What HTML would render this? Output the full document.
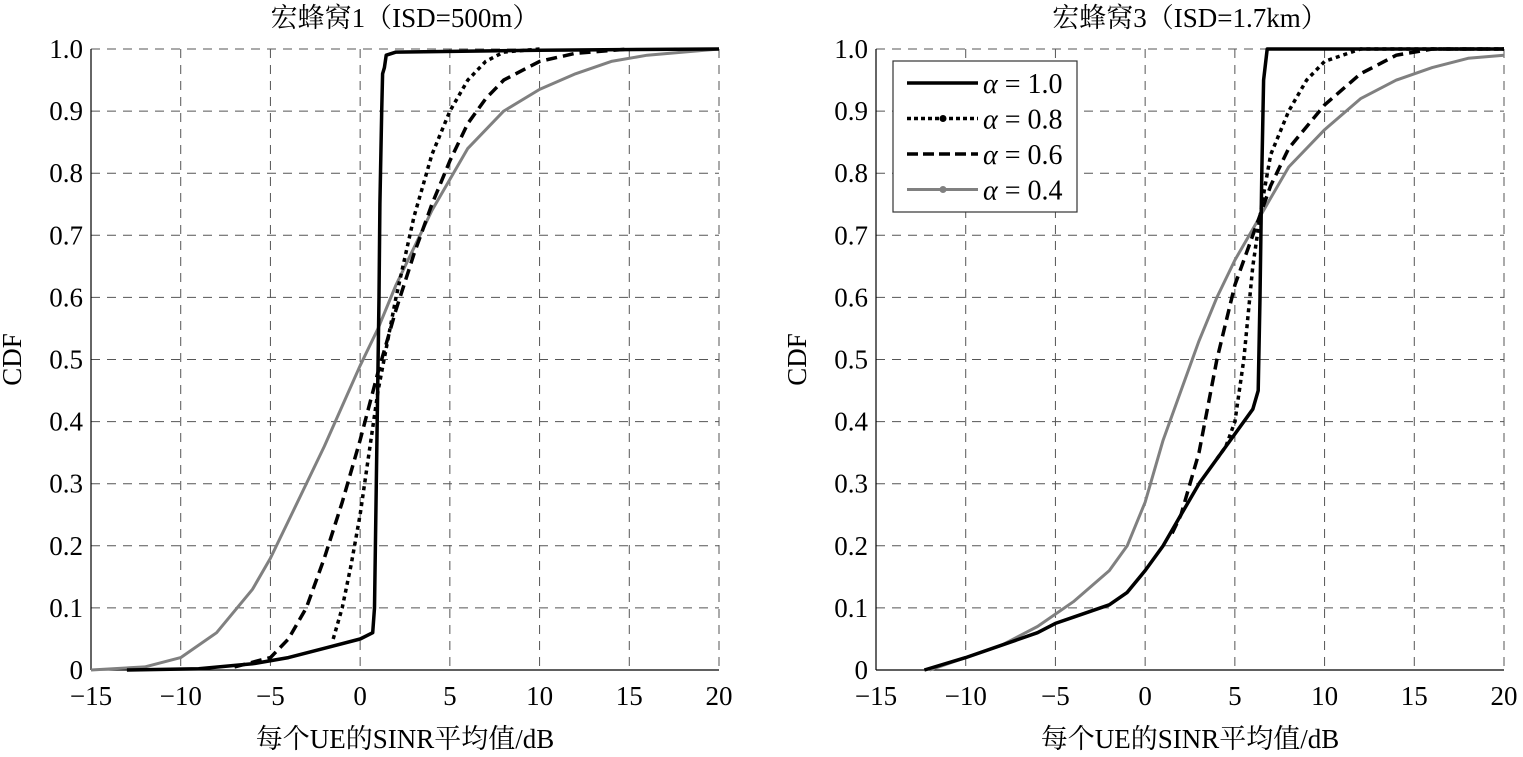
<!DOCTYPE html>
<html><head><meta charset="utf-8"><style>
body{margin:0;background:#fff;}
</style></head><body>
<svg id="s" width="1523" height="752" xmlns="http://www.w3.org/2000/svg" font-family="'Liberation Serif','Noto Serif CJK SC',serif"></svg>
<script>
const S=document.getElementById('s');let h='';
function add(x){h+=x;}
const F=`font-family="Liberation Serif, Noto Serif CJK SC, serif"`;
const plots=[
{x0:91,title:'宏蜂窝1（ISD=500m）',c:{
a1:[[-13,0],[-9,0.002],[-6,0.01],[-4,0.02],[-2,0.035],[0,0.05],[0.7,0.06],[0.8,0.1],[0.9,0.3],[1.0,0.5],[1.05,0.6],[1.1,0.75],[1.2,0.9],[1.25,0.96],[1.35,0.97],[1.45,0.99],[2,0.995],[10,0.998],[20,1]],
a8:[[-1.5,0.05],[-1,0.1],[-0.5,0.17],[0,0.25],[0.5,0.35],[1,0.45],[2,0.6],[3,0.73],[4,0.83],[5,0.9],[6,0.95],[7,0.98],[8,0.995],[10,1]],
a6:[[-7,0.005],[-5,0.02],[-4,0.05],[-3,0.1],[-2,0.18],[-1,0.27],[0,0.37],[1,0.48],[2,0.58],[3,0.67],[4,0.75],[5,0.82],[6,0.88],[7,0.92],[8,0.95],[10,0.98],[12,0.993],[15,1]],
a4:[[-15,0],[-12,0.005],[-10,0.02],[-8,0.06],[-6,0.13],[-5,0.18],[-4,0.24],[-2,0.36],[0,0.49],[1,0.55],[2,0.62],[3,0.68],[4,0.74],[5,0.79],[6,0.84],[8,0.9],[10,0.935],[12,0.96],[14,0.98],[16,0.99],[20,1]]}},
{x0:876,title:'宏蜂窝3（ISD=1.7km）',c:{
a1:[[-12.3,0],[-10,0.02],[-8,0.04],[-6,0.06],[-5,0.075],[-4,0.085],[-2,0.105],[-1,0.125],[0,0.16],[1,0.2],[2,0.25],[3,0.3],[4,0.34],[5,0.38],[6,0.42],[6.3,0.45],[6.4,0.6],[6.5,0.8],[6.6,0.95],[6.8,1.0],[20,1]],
a8:[[4,0.34],[4.5,0.36],[5,0.4],[5.5,0.5],[6,0.65],[6.5,0.75],[7,0.83],[8,0.9],[9,0.95],[10,0.98],[12,1],[20,1]],
a6:[[1.5,0.22],[2,0.25],[3,0.35],[4,0.5],[5,0.62],[6,0.7],[7,0.78],[8,0.84],[10,0.91],[12,0.96],[14,0.99],[16,1],[20,1]],
a4:[[-12,0],[-10,0.02],[-8,0.04],[-6,0.07],[-4,0.11],[-2,0.16],[-1,0.2],[0,0.27],[1,0.37],[2,0.45],[3,0.53],[4,0.6],[5,0.66],[6,0.71],[7,0.76],[8,0.81],[10,0.87],[12,0.92],[14,0.95],[16,0.97],[18,0.985],[20,0.99]]}}];
const W=628,T=49,B=670;
const xl=['\u221215','\u221210','\u22125','0','5','10','15','20'];
plots.forEach(p=>{
 const X=v=>p.x0+(v+15)/35*W, Y=v=>B-v*(B-T);
 for(let i=0;i<=7;i++){const x=p.x0+i*W/7;
  if(i>0&&i<7)add(`<line x1="${x}" y1="${T}" x2="${x}" y2="${B}" stroke="#555" stroke-width="1" stroke-dasharray="9,7"/>`);
  add(`<text ${F} x="${x}" y="${B+35}" font-size="27" text-anchor="middle">${xl[i]}</text>`);}
 for(let j=0;j<=10;j++){const y=B-j*(B-T)/10;
  if(j>0&&j<10)add(`<line x1="${p.x0}" y1="${y}" x2="${p.x0+W}" y2="${y}" stroke="#555" stroke-width="1" stroke-dasharray="9,7"/>`);
  add(`<text ${F} x="${p.x0-8}" y="${y+9}" font-size="27" text-anchor="end">${j==0?'0':(j/10).toFixed(1)}</text>`);}
 add(`<line x1="${p.x0}" y1="${T}" x2="${p.x0+W}" y2="${T}" stroke="#555" stroke-dasharray="9,7"/>`);
 add(`<line x1="${p.x0+W}" y1="${T}" x2="${p.x0+W}" y2="${B}" stroke="#555" stroke-dasharray="9,7"/>`);
 add(`<line x1="${p.x0}" y1="${T}" x2="${p.x0}" y2="${B}" stroke="#000" stroke-width="1.2"/><line x1="${p.x0}" y1="${B}" x2="${p.x0+W}" y2="${B}" stroke="#000" stroke-width="1.2"/>`);
 const st={a4:'stroke="#808080" stroke-width="3"',a6:'stroke="#000" stroke-width="3.5" stroke-dasharray="11,6"',a8:'stroke="#000" stroke-width="3.5" stroke-dasharray="4,4"',a1:'stroke="#000" stroke-width="3.5"'};
 ['a4','a6','a8','a1'].forEach(k=>{add(`<polyline fill="none" stroke-linejoin="round" ${st[k]} points="${p.c[k].map(q=>X(q[0]).toFixed(1)+','+Y(q[1]).toFixed(1)).join(' ')}"/>`);});
 add(`<text ${F} x="${p.x0+W/2}" y="27" font-size="27" text-anchor="middle">${p.title}</text>`);
 add(`<text ${F} x="${p.x0+W/2}" y="748" font-size="27" text-anchor="middle">每个UE的SINR平均值/dB</text>`);
 add(`<text ${F} transform="translate(${p.x0-70},${(T+B)/2}) rotate(-90)" font-size="27" text-anchor="middle">CDF</text>`);
});
add(`<rect x="893" y="61" width="184" height="151" fill="#fff" stroke="#333" stroke-width="1.2"/>`);
const L=[['1.0','stroke="#000" stroke-width="3.5"',0],['0.8','stroke="#000" stroke-width="3.5" stroke-dasharray="4,3"',1],['0.6','stroke="#000" stroke-width="3.5" stroke-dasharray="11,5"',0],['0.4','stroke="#808080" stroke-width="3"',1]];
L.forEach((l,i)=>{const y=83+i*35.5;
 add(`<line x1="907" y1="${y}" x2="978" y2="${y}" ${l[1]}/>`);
 if(l[2])add(`<circle cx="943" cy="${y}" r="3.5" fill="${i==3?'#808080':'#000'}"/>`);
 add(`<text ${F} x="983" y="${y+10}" font-size="28"><tspan font-style="italic">α</tspan> = ${l[0]}</text>`);});
S.innerHTML=h;
</script>
</body></html>
